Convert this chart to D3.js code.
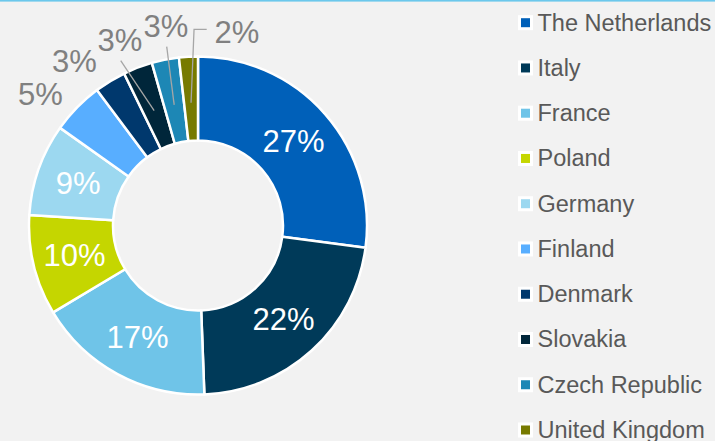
<!DOCTYPE html>
<html>
<head>
<meta charset="utf-8">
<script src="https://cdn.jsdelivr.net/npm/d3@7"></script>
<style>
html,body{margin:0;padding:0;background:#F2F2F2;}
svg{display:block;}
</style>
</head>
<body>
<svg id="chart" width="715" height="441"></svg>
<script>
const categories = ["The Netherlands","Italy","France","Poland","Germany","Finland","Denmark","Slovakia","Czech Republic","United Kingdom"];
const values = [27.1, 22.3, 17.0, 9.6, 8.8, 5.0, 3.0, 2.8, 2.6, 1.8];
const colors = ["#0060B9","#003A59","#6FC4E8","#C5D600","#9CD8F0","#58AEFF","#00386D","#00263A","#1D87B5","#777A00"];
// outside label offsets (label center relative to slice outer centroid), null = inside label
const outsideLabels = [null,null,null,null,null,
  {x:40.5,y:94.5,leader:false},
  {x:74.5,y:61,leader:false},
  {x:120,y:40,leader:true},
  {x:166,y:26,leader:true},
  {x:237,y:32,leader:true,elbow:true}];

const svg = d3.select("#chart");
svg.append("rect").attr("x",0).attr("y",0).attr("width",715).attr("height",1.6).attr("fill","#6CC8EC");

const cx = 198, cy = 225.5, rOuter = 169, rInner = 85;
const g = svg.append("g").attr("transform",`translate(${cx},${cy})`);
const pie = d3.pie().sort(null).value(d=>d)(values);
const arc = d3.arc().innerRadius(rInner).outerRadius(rOuter);
const labelArc = d3.arc().innerRadius(127).outerRadius(127);

g.selectAll("path.slice").data(pie).join("path")
  .attr("class","slice")
  .attr("d",arc)
  .attr("fill",(d,i)=>colors[i])
  .attr("stroke","#FFFFFF").attr("stroke-width",2.5).attr("stroke-linejoin","round");

const fontFam = "Arial, 'Liberation Sans', Helvetica, sans-serif";

pie.forEach((d,i)=>{
  const lbl = Math.round(values[i]) + "%";
  const o = outsideLabels[i];
  if (!o) {
    const c = labelArc.centroid(d);
    g.append("text").attr("x",c[0]).attr("y",c[1])
      .attr("text-anchor","middle").attr("dominant-baseline","central")
      .attr("font-family",fontFam).attr("font-size",31).attr("fill","#FFFFFF").text(lbl);
  } else {
    if (o.leader) {
      const mid = (d.startAngle+d.endAngle)/2;
      const r0 = 123;
      const sx = Math.sin(mid)*r0, sy = -Math.cos(mid)*r0;
      let pts;
      if (o.elbow) {
        pts = [[sx,sy],[sx+3,29.3-cy],[206.7-cx,29.3-cy]];
      } else {
        // end near bottom of label
        const ex = o.x - cx + (i===7?0.7:0.7), ey = o.y - cy + (i===7?20.7:20.7);
        pts = [[sx,sy],[ex,ey]];
      }
      g.append("path").attr("d",d3.line()(pts))
        .attr("fill","none").attr("stroke","#A6A6A6").attr("stroke-width",1.3);
    }
    svg.append("text").attr("x",o.x).attr("y",o.y)
      .attr("text-anchor","middle").attr("dominant-baseline","central")
      .attr("font-family",fontFam).attr("font-size",31).attr("fill","#808080").text(lbl);
  }
});

// legend
const legendY = d3.scalePoint().domain(categories).range([22.7,430]);
const leg = svg.append("g");
const items = leg.selectAll("g").data(categories).join("g")
  .attr("transform",d=>`translate(518,${legendY(d)})`);
items.append("rect").attr("x",0).attr("y",-7.5).attr("width",15).attr("height",15).attr("fill","#FFFFFF");
items.append("rect").attr("x",3).attr("y",-4.5).attr("width",9).attr("height",9).attr("fill",(d,i)=>colors[i]);
items.append("text").attr("x",19.5).attr("y",0).attr("dominant-baseline","central")
  .attr("font-family",fontFam).attr("font-size",23.5).attr("fill","#595959").text(d=>d);
</script>
</body>
</html>
